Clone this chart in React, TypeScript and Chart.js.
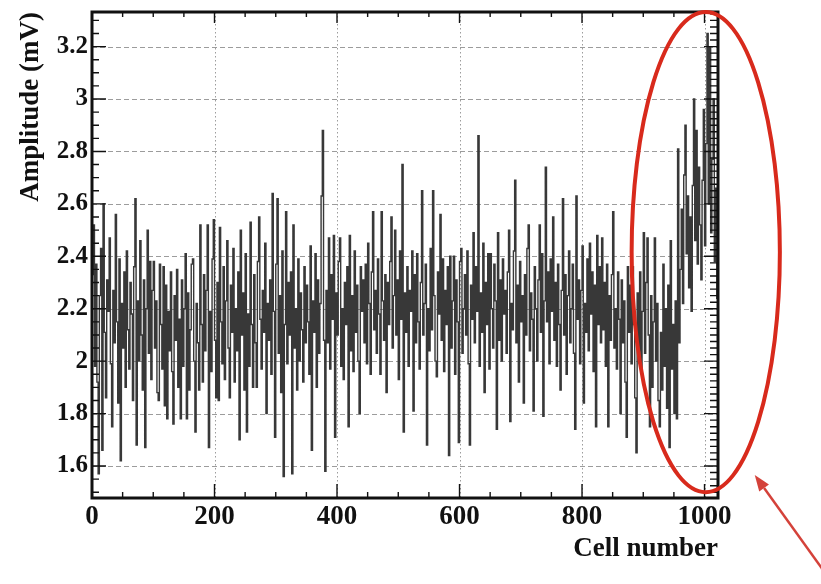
import { useEffect, useRef } from "react";
import { Chart, registerables } from "chart.js";

Chart.register(...registerables);

// Amplitude per readout cell, one sample every CELL_STEP cells (cells 0..1022)
const CELL_STEP = 2;
const amplitude: number[] = [
  2.33, 2.52, 1.98, 2.37, 1.92, 1.57, 2.25, 2.43, 1.66, 2.60, 2.11, 1.86, 2.31, 2.19, 2.47, 1.99,
  1.75, 2.27, 2.07, 2.56, 2.15, 1.84, 2.39, 1.62, 2.22, 2.05, 2.34, 1.90, 2.42, 2.12, 1.97, 2.30,
  2.18, 1.85, 2.36, 2.62, 1.68, 2.23, 2.00, 2.46, 2.10, 1.89, 2.31, 1.67, 2.20, 2.50, 2.03, 2.38,
  1.93, 2.27, 2.38, 2.05, 2.23, 1.88, 1.85, 2.37, 2.14, 1.97, 2.36, 1.83, 2.29, 1.78, 2.19, 2.04,
  2.34, 1.96, 1.76, 2.25, 2.08, 2.35, 1.90, 2.16, 1.78, 2.31, 1.98, 2.20, 2.41, 1.78, 2.26, 1.89,
  2.12, 2.37, 2.39, 2.00, 1.73, 2.22, 2.07, 1.89, 2.52, 2.14, 1.92, 2.33, 2.04, 2.27, 2.52, 1.67,
  2.19, 1.96, 2.39, 2.54, 2.08, 1.86, 2.30, 1.85, 2.51, 2.15, 1.99, 2.36, 1.93, 2.23, 2.46, 2.05,
  1.86, 2.29, 2.11, 2.43, 1.92, 2.20, 2.04, 2.34, 1.70, 2.50, 2.10, 2.26, 1.89, 2.41, 1.73, 2.18,
  1.98, 2.53, 2.14, 1.90, 2.33, 2.07, 1.90, 2.38, 2.55, 2.16, 1.97, 2.27, 2.11, 2.45, 1.80, 2.22,
  2.08, 2.31, 1.95, 2.64, 2.19, 1.71, 2.37, 2.62, 2.03, 2.25, 1.88, 2.42, 1.56, 2.14, 2.57, 1.99,
  2.30, 2.10, 2.34, 1.57, 2.52, 2.05, 2.20, 1.89, 2.39, 2.00, 2.26, 2.12, 1.92, 2.36, 2.07, 2.29,
  2.15, 1.95, 2.44, 1.66, 2.23, 2.11, 2.41, 1.90, 2.31, 2.03, 2.22, 2.63, 2.88, 2.08, 1.58, 2.27,
  2.07, 2.47, 1.97, 2.33, 2.16, 2.48, 1.71, 2.26, 2.10, 2.38, 2.47, 1.98, 2.20, 1.93, 2.30, 2.14,
  2.36, 1.75, 2.48, 2.04, 2.25, 1.96, 2.42, 2.11, 2.29, 2.00, 1.80, 2.36, 2.19, 2.31, 2.07, 2.37,
  1.99, 2.45, 2.22, 1.95, 2.34, 2.57, 2.12, 2.27, 2.03, 2.39, 2.18, 1.95, 2.57, 2.23, 2.08, 2.33,
  1.88, 2.30, 2.14, 2.38, 2.55, 2.05, 2.25, 2.50, 2.10, 2.31, 1.93, 2.42, 2.16, 2.75, 1.73, 2.26,
  2.11, 2.36, 1.98, 2.27, 2.19, 2.42, 1.81, 2.33, 2.07, 2.41, 2.15, 1.97, 2.30, 2.65, 2.10, 2.22,
  2.37, 1.68, 2.20, 2.04, 2.43, 2.12, 2.65, 2.25, 2.00, 1.94, 2.34, 2.18, 2.56, 2.08, 2.39, 1.96,
  2.27, 2.14, 2.36, 1.64, 2.40, 2.05, 2.23, 2.40, 1.95, 2.31, 2.15, 1.69, 2.38, 2.43, 2.03, 2.20,
  2.33, 2.10, 2.42, 1.99, 1.68, 2.29, 2.16, 2.49, 2.07, 2.36, 2.19, 2.86, 1.98, 2.26, 2.11, 2.45,
  1.88, 2.30, 2.14, 2.41, 1.97, 2.41, 2.20, 2.05, 2.37, 2.23, 1.74, 2.49, 2.08, 2.31, 2.00, 2.39,
  2.18, 2.27, 2.03, 2.34, 2.50, 1.77, 2.22, 2.12, 2.42, 2.69, 2.07, 2.29, 1.92, 2.38, 2.15, 2.25,
  1.84, 2.33, 2.10, 2.43, 2.52, 2.04, 2.26, 2.16, 1.81, 2.36, 2.20, 2.00, 2.31, 2.52, 2.11, 2.41,
  1.79, 2.23, 2.74, 2.15, 2.34, 1.99, 2.39, 2.19, 2.55, 2.08, 2.30, 1.98, 2.37, 2.14, 1.89, 2.27,
  2.62, 2.10, 2.33, 1.95, 2.25, 2.42, 2.07, 2.20, 2.37, 2.03, 1.74, 2.63, 2.16, 2.31, 1.99, 2.27,
  2.44, 1.84, 2.22, 2.11, 2.39, 2.04, 2.45, 2.18, 2.34, 1.96, 2.29, 1.75, 2.48, 2.14, 2.36, 2.07,
  2.47, 2.12, 2.30, 1.98, 2.37, 1.75, 2.25, 2.08, 2.33, 2.57, 2.05, 2.20, 1.97, 2.34, 2.16, 1.80,
  2.31, 2.07, 2.23, 1.92, 1.71, 2.36, 2.11, 2.29, 1.99, 2.36, 2.14, 1.86, 1.65, 2.26, 2.04, 2.34,
  1.96, 2.19, 2.49, 2.03, 2.30, 2.47, 2.10, 1.75, 2.25, 1.90, 2.15, 2.47, 2.00, 2.22, 1.85, 1.75,
  2.11, 1.89, 2.37, 1.98, 2.20, 1.82, 2.29, 1.67, 2.46, 1.97, 2.14, 1.80, 2.23, 1.78, 2.81, 2.07,
  2.35, 2.58, 2.22, 2.71, 2.90, 2.41, 2.63, 2.28, 2.55, 2.19, 2.67, 3.00, 2.46, 2.88, 2.37, 2.74,
  2.52, 2.31, 2.69, 2.96, 2.44, 2.83, 3.25, 2.60, 3.20, 2.49, 2.77, 3.00, 2.38, 2.66, 2.24, 2.58,
];

const xTickValues = [0, 200, 400, 600, 800, 1000];
const yTickValues = [1.6, 1.8, 2, 2.2, 2.4, 2.6, 2.8, 3, 3.2];
const xRange = { min: 0, max: 1022 };
const yRange = { min: 1.478, max: 3.332 };

// Highlighted end-of-buffer region and the arrow pointing at it (data units)
const highlight = { cx: 1002, cy: 2.416, rx: 121, ry: 0.916 };
const pointer = { fromX: 1202, fromY: 1.176, toX: 1082, toY: 1.566 };

const SERIF = '"Liberation Serif", "Times New Roman", serif';

const dashedGrid = {
  id: "dashedGrid",
  beforeDatasetsDraw(chart: any) {
    const { ctx, chartArea: a, scales } = chart;
    ctx.save();
    ctx.strokeStyle = "#9c9c9c";
    ctx.lineWidth = 1;
    ctx.setLineDash([5, 3]);
    for (const v of yTickValues) {
      const py = Math.round(scales.y.getPixelForValue(v)) + 0.5;
      ctx.beginPath();
      ctx.moveTo(a.left, py);
      ctx.lineTo(a.right, py);
      ctx.stroke();
    }
    ctx.setLineDash([1.5, 2.5]);
    for (const v of xTickValues) {
      if (v === xRange.min) continue;
      const px = Math.round(scales.x.getPixelForValue(v)) + 0.5;
      ctx.beginPath();
      ctx.moveTo(px, a.top);
      ctx.lineTo(px, a.bottom);
      ctx.stroke();
    }
    ctx.restore();
  },
};

const axisFrame = {
  id: "axisFrame",
  afterDatasetsDraw(chart: any) {
    const { ctx, chartArea: a, scales } = chart;
    const xs = scales.x;
    const ys = scales.y;
    ctx.save();
    ctx.strokeStyle = "#111";
    ctx.lineWidth = 1.4;
    ctx.beginPath();
    // horizontal axes: minor every 50 cells, major every 200
    for (let k = 0; k * 50 <= xRange.max; k++) {
      const px = xs.getPixelForValue(k * 50);
      const major = k % 4 === 0;
      ctx.moveTo(px, a.bottom);
      ctx.lineTo(px, a.bottom - (major ? 14 : 6));
      ctx.moveTo(px, a.top);
      ctx.lineTo(px, a.top + (major ? 11 : 5));
    }
    // left axis: minor every 0.05, major every 0.2
    for (let k = Math.ceil(yRange.min / 0.05); k * 0.05 <= yRange.max; k++) {
      const py = ys.getPixelForValue(k * 0.05);
      const major = k % 4 === 0;
      ctx.moveTo(a.left, py);
      ctx.lineTo(a.left + (major ? 14 : 7), py);
    }
    // right axis: finer ticks
    for (let k = Math.ceil(yRange.min / 0.025); k * 0.025 <= yRange.max; k++) {
      const py = ys.getPixelForValue(k * 0.025);
      const major = k % 8 === 0;
      ctx.moveTo(a.right, py);
      ctx.lineTo(a.right - (major ? 14 : 8), py);
    }
    ctx.stroke();
    ctx.lineWidth = 3;
    ctx.strokeRect(a.left, a.top, a.right - a.left, a.bottom - a.top);
    ctx.restore();
  },
};

const markup = {
  id: "markup",
  afterDraw(chart: any) {
    const { ctx, scales } = chart;
    const xs = scales.x;
    const ys = scales.y;
    ctx.save();
    // ellipse around the last cells
    const cx = xs.getPixelForValue(highlight.cx);
    const cy = ys.getPixelForValue(highlight.cy);
    const rx = Math.abs(xs.getPixelForValue(highlight.cx + highlight.rx) - cx);
    const ry = Math.abs(ys.getPixelForValue(highlight.cy + highlight.ry) - cy);
    ctx.strokeStyle = "#d82a1c";
    ctx.lineWidth = 4;
    ctx.beginPath();
    ctx.ellipse(cx, cy, rx, ry, 0, 0, Math.PI * 2);
    ctx.stroke();
    // arrow
    const x0 = xs.getPixelForValue(pointer.fromX);
    const y0 = ys.getPixelForValue(pointer.fromY);
    const x1 = xs.getPixelForValue(pointer.toX);
    const y1 = ys.getPixelForValue(pointer.toY);
    const ang = Math.atan2(y1 - y0, x1 - x0);
    const head = 16;
    const half = 6;
    const bx = x1 - head * Math.cos(ang);
    const by = y1 - head * Math.sin(ang);
    ctx.strokeStyle = "#d4423a";
    ctx.fillStyle = "#d4423a";
    ctx.lineWidth = 2.5;
    ctx.beginPath();
    ctx.moveTo(x0, y0);
    ctx.lineTo(bx, by);
    ctx.stroke();
    ctx.beginPath();
    ctx.moveTo(x1, y1);
    ctx.lineTo(bx - half * Math.sin(ang), by + half * Math.cos(ang));
    ctx.lineTo(bx + half * Math.sin(ang), by - half * Math.cos(ang));
    ctx.closePath();
    ctx.fill();
    ctx.restore();
  },
};

function zeroPadding(scale: any) {
  scale.paddingTop = 0;
  scale.paddingBottom = 0;
  scale.paddingLeft = 0;
  scale.paddingRight = 0;
}

export default function App() {
  const canvasRef = useRef<HTMLCanvasElement | null>(null);

  useEffect(() => {
    const canvas = canvasRef.current;
    if (!canvas) return;
    const points = amplitude.map((v, i) => ({ x: i * CELL_STEP, y: v }));
    const chart = new Chart(canvas, {
      type: "line",
      data: {
        datasets: [
          {
            data: points,
            stepped: true,
            borderColor: "#383838",
            borderWidth: 1.4,
            pointRadius: 0,
            fill: false,
          },
        ],
      },
      options: {
        responsive: false,
        animation: false,
        devicePixelRatio: 1,
        layout: { padding: { left: 0, top: 12, right: 103, bottom: 0 } },
        plugins: {
          legend: { display: false },
          tooltip: { enabled: false },
        },
        scales: {
          x: {
            type: "linear",
            min: xRange.min,
            max: xRange.max,
            grid: { display: false, drawTicks: false },
            border: { display: false },
            afterBuildTicks: (s: any) => {
              s.ticks = xTickValues.map((value) => ({ value }));
            },
            afterFit: (s: any) => {
              s.height = 86;
              zeroPadding(s);
            },
            ticks: {
              maxRotation: 0,
              autoSkip: false,
              padding: 3,
              color: "#111",
              font: { family: SERIF, size: 27, weight: "bold" },
              callback: (v: any) => String(v),
            },
            title: {
              display: true,
              text: "Cell number",
              align: "end",
              color: "#111",
              padding: { top: 0, bottom: 19 },
              font: { family: SERIF, size: 27, weight: "bold" },
            },
          },
          y: {
            type: "linear",
            min: yRange.min,
            max: yRange.max,
            grid: { display: false, drawTicks: false },
            border: { display: false },
            afterBuildTicks: (s: any) => {
              s.ticks = yTickValues.map((value) => ({ value }));
            },
            afterFit: (s: any) => {
              s.width = 92;
              zeroPadding(s);
            },
            ticks: {
              autoSkip: false,
              padding: 4,
              color: "#111",
              font: { family: SERIF, size: 25, weight: "bold" },
              callback: (v: any) => String(parseFloat(Number(v).toFixed(1))),
            },
            title: {
              display: true,
              text: "Amplitude (mV)",
              align: "end",
              color: "#111",
              padding: { top: 15, bottom: 0 },
              font: { family: SERIF, size: 27, weight: "bold" },
            },
          },
        },
      },
      plugins: [dashedGrid, axisFrame, markup],
    } as any);
    return () => chart.destroy();
  }, []);

  return (
    <canvas
      ref={canvasRef}
      width={821}
      height={584}
      style={{ position: "fixed", left: 0, top: 0, background: "#fff" }}
    />
  );
}
